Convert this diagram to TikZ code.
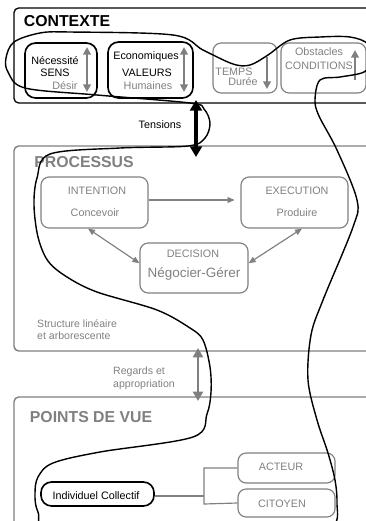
\documentclass[tikz,border=0pt]{standalone}
\usepackage{fontspec}
\setmainfont{Liberation Sans}
\usetikzlibrary{arrows.meta}
\definecolor{gris}{RGB}{128,128,128}
\tikzset{
  cadre/.style={rounded corners=4pt, line width=1.1pt},
  boite/.style={draw=gris, line width=1pt, rounded corners=7pt, inner sep=0pt},
  boitenoire/.style={draw=black, line width=1.4pt, rounded corners=9pt, inner sep=0pt},
  txt/.style={inner sep=0pt, font=\fontsize{9.2}{11}\selectfont},
  gtxt/.style={txt, text=gris},
  titre/.style={inner sep=0pt, font=\fontsize{13.5}{16}\bfseries\selectfont},
  fleche/.style={draw=gris, line width=1.6pt, -{Triangle[length=6.5pt,width=6.5pt]}},
  dfleche/.style={fleche, {Triangle[length=6.5pt,width=6.5pt]}-{Triangle[length=6.5pt,width=6.5pt]}},
  lien/.style={draw=gris, line width=1pt, {Triangle[length=6pt,width=5pt]}-{Triangle[length=6pt,width=5pt]}},
}
\begin{document}
\begin{tikzpicture}[x=0.03cm, y=-0.03cm]
  \useasboundingbox (0,0) rectangle (366,521);
  \clip (0,0) rectangle (366,521);

  \draw[cadre, black] (14,8) rectangle (400,103);
  \draw[cadre, gris, line width=1.2pt] (14,146) rectangle (400,351);
  \draw[cadre, gris, line width=1.2pt] (14,397) rectangle (400,580);
  \node[titre] (contexte) at (67,21) {CONTEXTE};
  \node[titre, text=gris] (processus) at (84,162) {PROCESSUS};
  \node[titre, text=gris] (pdv) at (91,417) {POINTS DE VUE};

  % contexte
  \node[boitenoire, minimum width=2.16cm, minimum height=1.65cm] (sens) at (61,70.5) {};
  \node[txt] (necessite) at (55,61) {Nécessité};
  \node[txt] (senstxt) at (55,73) {SENS};
  \node[gtxt] (desir) at (65,86) {Désir};
  \draw[dfleche] (87,92) -- (87,47);

  \node[boitenoire, minimum width=2.55cm, minimum height=1.68cm] (valeurs) at (150.5,70) {};
  \node[txt] (eco) at (146,57) {Economiques};
  \node[txt] (valtxt) at (147,73) {VALEURS};
  \node[gtxt] (humaines) at (148,86) {Humaines};
  \draw[dfleche] (184,92) -- (184,47);

  \node[boite, minimum width=1.92cm, minimum height=1.5cm] (temps) at (245,68) {};
  \node[gtxt] (tempstxt) at (234,72) {TEMPS};
  \node[gtxt] (duree) at (243,82) {Durée};
  \draw[fleche] (267,57) -- (267,89);

  \node[boite, minimum width=2.55cm, minimum height=1.5cm] (conditions) at (323.5,68) {};
  \node[gtxt] (obstacles) at (319,52) {Obstacles};
  \node[gtxt] (condtxt) at (319,66) {CONDITIONS};
  \draw[fleche] (355,80) -- (355,50);

  \node[txt] (tensions) at (160,125) {Tensions};
  \draw[line width=2.8pt, {Triangle[length=9pt,width=10pt]}-{Triangle[length=9pt,width=10pt]}] (196,100) -- (196,157);

  % processus
  \node[boite, minimum width=3.21cm, minimum height=1.53cm] (intention) at (94.5,202.5) {};
  \node[gtxt] (inttxt) at (97,191) {INTENTION};
  \node[gtxt] (concevoir) at (95,213) {Concevoir};
  \node[boite, minimum width=3.21cm, minimum height=1.53cm] (execution) at (294.5,202.5) {};
  \node[gtxt] (exetxt) at (297,191) {EXECUTION};
  \node[gtxt] (produire) at (297,213) {Produire};
  \node[boite, minimum width=3.24cm, minimum height=1.5cm] (decision) at (194,268) {};
  \node[gtxt] (dectxt) at (193,254) {DECISION};
  \node[gtxt, font=\fontsize{11.5}{13}\selectfont] (negocier) at (194,274) {Négocier-Gérer};
  \draw[draw=gris, line width=1pt, -{Triangle[length=6pt,width=5pt]}] (intention.east) ++(0,-2.5) -- ++(86,0);
  \draw[lien] (intention.256) -- (decision.175);
  \draw[lien] (execution.286) -- (decision.5);
  \node[gtxt, align=left, anchor=north west, font=\fontsize{9}{10.5}\selectfont] (structure) at (37,319) {Structure linéaire\\et arborescente};

  \node[gtxt, align=left, anchor=north west, font=\fontsize{9}{10.5}\selectfont] (regards) at (113,367) {Regards et\\appropriation};
  \draw[gris, line width=2.2pt, {Triangle[length=8pt,width=8.5pt]}-{Triangle[length=8pt,width=8.5pt]}] (198,348) -- (198,401);

  % points de vue
  \node[boitenoire, minimum width=3.39cm, minimum height=0.72cm] (individuel) at (97.5,494) {};
  \node[txt] (indtxt) at (96,496) {Individuel Collectif};
  \node[boite, minimum width=2.91cm, minimum height=0.9cm] (acteur) at (286.5,468) {};
  \node[gtxt] (actxt) at (281,467) {ACTEUR};
  \node[boite, minimum width=2.91cm, minimum height=0.84cm] (citoyen) at (286.5,503) {};
  \node[gtxt] (citxt) at (282,504) {CITOYEN};
  \draw[gris, line width=1pt] (individuel.east) ++(0,2) -- (204,496);
  \draw[gris, line width=1pt] (acteur.west) -| (204,504) -- (citoyen.west);

  % boucle
  \draw[line width=1.2pt] plot[smooth cycle, tension=0.55] coordinates {
    (38,512) (35,494) (38,477) (53,463) (100,452) (193,437) (207,414)
    (211,392) (210,367) (203,340) (190,328) (157,310) (97,292) (67,277)
    (48,261) (38,237) (34,205) (37,178) (50,154) (120,148) (188,146)
    (205,138) (210,123) (204,109) (190,103) (97,95) (25,88) (8,72)
    (6,58) (14,42) (40,33) (70,32) (173,35) (203,50) (233,64) (250,65)
    (268,55) (290,40) (320,37) (350,37) (368,44) (372,60) (364,72)
    (340,77) (320,80) (315,100) (319,116) (337,150) (357,200) (353,227)
    (323,300) (311,335) (308,380) (317,420) (328,453) (335,480)
    (337,503) (334,525) (300,540) (190,545) (55,535)};
\end{tikzpicture}
\end{document}
